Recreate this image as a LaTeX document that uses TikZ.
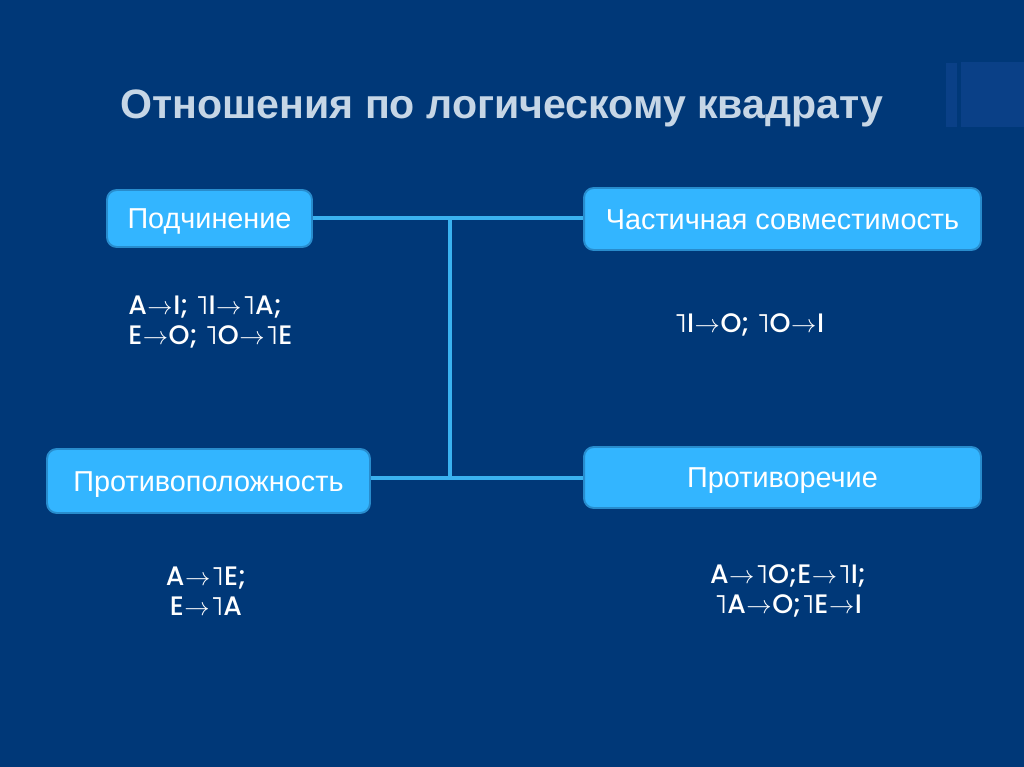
\documentclass[tikz,border=0pt]{standalone}
\usepackage{fontspec}
\setmainfont{Liberation Sans}
\newfontfamily\formfont{Poppins}[UprightFont={* Medium}]
\usetikzlibrary{positioning}
\definecolor{slideblue}{RGB}{0, 56, 120}
\definecolor{boxblue}{RGB}{51, 181, 255}
\definecolor{boxedge}{RGB}{40, 140, 205}
\definecolor{linkblue}{RGB}{58, 178, 240}
\definecolor{titlegray}{RGB}{198, 214, 230}
\definecolor{decoblue}{RGB}{10, 64, 135}
\newfontfamily\symfont{DejaVu Sans}
\newcommand{\tto}{\kern0.3pt${\rightarrow}$\kern0.3pt}
\newcommand{\nng}{{\symfont ˥}}

\begin{document}
\begin{tikzpicture}[x=0.02cm, y=-0.02cm,
  rbox/.style={draw=boxedge, line width=1.1pt, fill=boxblue, rounded corners=5.5pt, text=white, font=\fontsize{16.4}{19}\selectfont, inner sep=0pt, text height=11.7pt, text depth=0pt},
  formula/.style={text=white, font=\formfont\fontsize{15.2}{17}\selectfont, align=left, inner sep=0pt},
  link/.style={draw=linkblue, line width=1.8pt}
]
  % background
  \fill[slideblue] (0,0) rectangle (1024,767);
  \fill[decoblue] (946,63) rectangle (957,127);
  \fill[decoblue] (961,62) rectangle (1024,127);

  \node[text=titlegray, font=\bfseries\fontsize{23.4}{26}\selectfont] (title) at (502,108) {Отношения по логическому квадрату};

  % relation boxes
  \node[rbox, minimum width=4.1cm, minimum height=1.14cm] (podch) at (209.5,218.5) {Подчинение};
  \node[rbox, minimum width=7.94cm, minimum height=1.24cm] (chast) at (782.5,219) {Частичная совместимость};
  \node[rbox, minimum width=6.46cm, minimum height=1.28cm] (protivop) at (208.5,481) {Противоположность};
  \node[rbox, minimum width=7.94cm, minimum height=1.22cm] (protivor) at (782.5,477.5) {Противоречие};

  % connectors
  \coordinate (jtop) at (450,218);
  \coordinate (jbot) at (450,478);
  \draw[link] (podch.east |- jtop) -- (chast.west |- jtop);
  \draw[link] (protivop.east |- jbot) -- (protivor.west |- jbot);
  \draw[link] (jtop) -- (jbot);

  % formulas
  \node[formula, anchor=west] (fpodch) at (128,322) {A\tto I; \nng I\tto\nng A;\\E\tto O; \nng O\tto\nng E};
  \node[formula] (fchast) at (749,325) {\nng I\tto O; \nng O\tto I};
  \node[formula, align=center] (fprotivop) at (206,591) {A\tto\nng E;\\E\tto\nng A};
  \node[formula, align=center] (fprotivor) at (788,591) {A\tto\nng O;E\tto\nng I;\\\nng A\tto O;\nng E\tto I};
\end{tikzpicture}
\end{document}
